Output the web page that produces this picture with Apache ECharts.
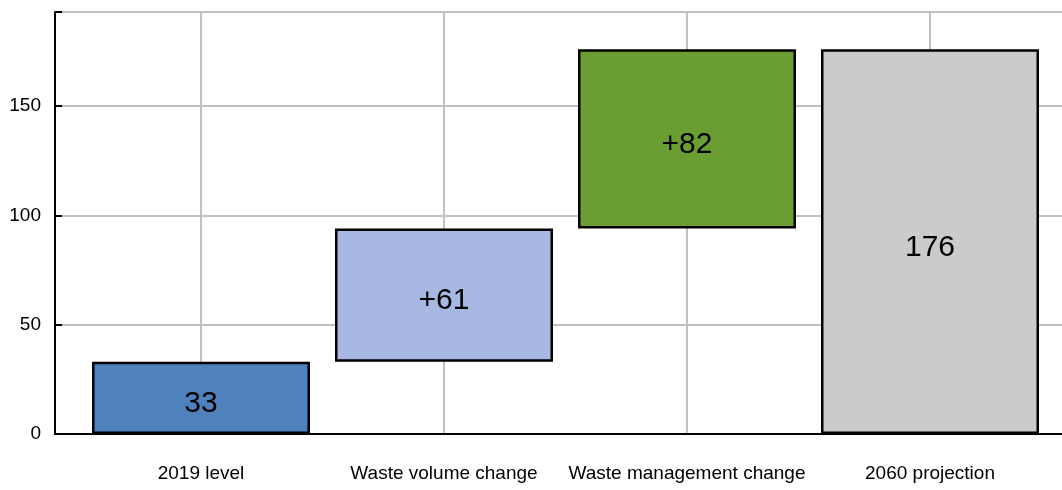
<!DOCTYPE html>
<html>
<head>
<meta charset="utf-8">
<script src="https://cdn.jsdelivr.net/npm/echarts@6/dist/echarts.min.js"></script>
<style>html,body{margin:0;padding:0;background:#fff;}#c{width:1062px;height:490px;}</style>
</head>
<body>
<div id="c"></div>
<script>
const categories = ['2019 level', 'Waste volume change', 'Waste management change', '2060 projection'];
const baseValues = [0, 33, 94, 0];
const deltaValues = [33, 61, 82, 176];
const valueLabels = ['33', '+61', '+82', '176'];
const barColors = ['#4f81bd', '#a7b8e2', '#6b9e32', '#cbcbcb'];
const yTicks = [0, 50, 100, 150];

const FONT = 'Liberation Sans, Arial, sans-serif';
const chart = echarts.init(document.getElementById('c'));
chart.setOption({
  animation: false,
  backgroundColor: '#fff',
  grid: [
    {left: 55, right: 0, top: 12, bottom: 56},
    {left: 201, right: 132, top: 12, bottom: 56}
  ],
  xAxis: [
    {gridIndex: 0, type: 'value', min: 0, max: 1, position: 'bottom',
     axisLine: {show: true, onZero: false, lineStyle: {color: '#000', width: 2}},
     axisTick: {show: false}, axisLabel: {show: false}, splitLine: {show: false}},
    {gridIndex: 0, type: 'value', min: 0, max: 1, position: 'top',
     axisLine: {show: true, lineStyle: {color: '#000', width: 1.5}},
     axisTick: {show: false}, axisLabel: {show: false}, splitLine: {show: false}},
    {gridIndex: 1, type: 'category', data: categories, boundaryGap: false,
     axisLine: {show: false}, axisTick: {show: false},
     axisLabel: {margin: 30, fontSize: 19, color: '#000', fontFamily: FONT, interval: 0},
     splitLine: {show: true, lineStyle: {color: '#c0c0c0', width: 2}}}
  ],
  yAxis: [
    {gridIndex: 0, type: 'value', min: 0, max: 193, interval: 50,
     axisLine: {show: true, lineStyle: {color: '#000', width: 2}},
     axisTick: {show: true, inside: true, length: 7, lineStyle: {color: '#000', width: 2}},
     axisLabel: {margin: 14, fontSize: 19, color: '#000', fontFamily: FONT,
       formatter: v => yTicks.indexOf(v) >= 0 ? String(v) : ''},
     splitLine: {show: true, lineStyle: {color: '#c0c0c0', width: 2}}},
    {gridIndex: 1, type: 'value', min: 0, max: 193, interval: 50, show: false,
     splitLine: {show: false}}
  ],
  series: [
    {type: 'bar', xAxisIndex: 2, yAxisIndex: 1, stack: 'w', barWidth: 218, clip: false,
     itemStyle: {color: 'transparent', borderWidth: 0}, silent: true,
     data: baseValues},
    {type: 'bar', xAxisIndex: 2, yAxisIndex: 1, stack: 'w', barWidth: 218, clip: false,
     data: deltaValues.map((v, i) => ({value: v, itemStyle: {color: barColors[i]}})),
     itemStyle: {borderColor: '#000', borderWidth: 2.5},
     label: {show: true, position: 'inside', offset: [0, 6], fontSize: 30, color: '#000',
       fontFamily: FONT, formatter: p => valueLabels[p.dataIndex]}}
  ]
});
</script>
</body>
</html>
